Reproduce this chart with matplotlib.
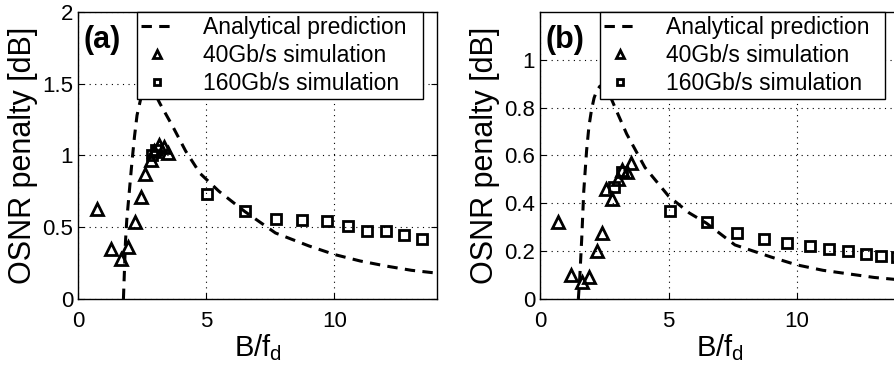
import numpy as np
import matplotlib
matplotlib.use('Agg')
import matplotlib.pyplot as plt

plt.rcParams['font.family'] = ['Liberation Sans', 'DejaVu Sans']

# (a) values
a_curve_x = [1.77, 1.8, 1.85, 1.9, 2.0, 2.1, 2.2, 2.3, 2.45, 2.6, 2.8, 3.0, 3.2, 3.7, 4.2, 4.76, 5.5, 6.5, 7.7, 9.0, 10.0, 11.0, 12.0, 13.0, 14.0]
a_curve_y = [0.0, 0.15, 0.4, 0.55, 0.75, 0.95, 1.13, 1.28, 1.4, 1.47, 1.48, 1.43, 1.36, 1.2, 1.03, 0.875, 0.75, 0.61, 0.46, 0.37, 0.31, 0.265, 0.23, 0.2, 0.18]
a_tri_x = [0.73, 1.29, 1.68, 1.96, 2.22, 2.46, 2.61, 2.85, 2.96, 3.17, 3.35, 3.52]
a_tri_y = [0.63, 0.35, 0.28, 0.36, 0.54, 0.71, 0.87, 0.97, 1.03, 1.07, 1.06, 1.02]
a_sq_x = [2.9, 3.05, 5.04, 6.51, 7.72, 8.74, 9.7, 10.52, 11.28, 12.01, 12.71, 13.4]
a_sq_y = [1.0, 1.04, 0.73, 0.61, 0.555, 0.55, 0.543, 0.51, 0.476, 0.474, 0.446, 0.418]

# (b)
b_curve_x = [1.49, 1.55, 1.62, 1.7, 1.81, 1.9, 2.0, 2.1, 2.2, 2.33, 2.5, 2.74, 3.0, 3.37, 4.08, 5.0, 5.8, 6.47, 7.58, 9.0, 9.97, 11.0, 12.0, 13.0, 14.0]
b_curve_y = [0.0, 0.1, 0.25, 0.45, 0.62, 0.72, 0.79, 0.84, 0.87, 0.89, 0.885, 0.845, 0.78, 0.69, 0.55, 0.43, 0.36, 0.317, 0.226, 0.175, 0.143, 0.12, 0.105, 0.09, 0.08]
b_tri_x = [0.71, 1.21, 1.64, 1.9, 2.2, 2.42, 2.56, 2.81, 3.02, 3.17, 3.39, 3.52]
b_tri_y = [0.32, 0.10, 0.07, 0.094, 0.20, 0.275, 0.46, 0.42, 0.50, 0.54, 0.53, 0.57]
b_sq_x = [2.89, 3.2, 5.05, 6.5, 7.67, 8.71, 9.59, 10.49, 11.24, 11.98, 12.66, 13.28, 13.9]
b_sq_y = [0.47, 0.53, 0.37, 0.32, 0.275, 0.25, 0.236, 0.22, 0.21, 0.20, 0.19, 0.18, 0.175]

fig = plt.figure(figsize=(8.95, 3.76), dpi=100)
ax_a = fig.add_axes([0.0872, 0.2048, 0.4011, 0.7633])
ax_b = fig.add_axes([0.6034, 0.2048, 0.4022, 0.7633])

panels = [
    (ax_a, '(a)', a_curve_x, a_curve_y, a_tri_x, a_tri_y, a_sq_x, a_sq_y, 2.0,
     [0, 0.5, 1, 1.5, 2], ['0', '0.5', '1', '1.5', '2'], (0.164, 0.0, 0.797, 1.0)),
    (ax_b, '(b)', b_curve_x, b_curve_y, b_tri_x, b_tri_y, b_sq_x, b_sq_y, 1.2,
     [0, 0.2, 0.4, 0.6, 0.8, 1], ['0', '0.2', '0.4', '0.6', '0.8', '1'], (0.167, 0.0, 0.792, 1.0)),
]

for ax, tag, cx, cy, tx, ty, sx, sy, ymax, yt, ytl, legbox in panels:
    ax.plot(cx, cy, 'k--', lw=2.2, dashes=(3.4, 2.4), label='Analytical prediction')
    ax.plot(tx, ty, '^', ms=9, mfc='none', mec='k', mew=2, ls='none', label='40Gb/s simulation')
    ax.plot(sx, sy, 's', ms=7, mfc='none', mec='k', mew=2, ls='none', label='160Gb/s simulation')
    ax.set_xlim(0, 14)
    ax.set_ylim(0, ymax)
    ax.set_xticks([0, 5, 10])
    ax.set_yticks(yt)
    ax.set_yticklabels(ytl)
    ax.tick_params(direction='in', top=True, right=True, labelsize=16, length=4)
    ax.tick_params(axis='x', pad=9)
    ax.grid(True, ls=(0, (1, 4)), color='k', lw=0.8)
    ax.set_xlabel(r'$\mathregular{B/f_d}$', fontsize=21, labelpad=0)
    ax.set_ylabel('OSNR penalty [dB]', fontsize=22, labelpad=3)
    ax.text(0.015, 0.955, tag, transform=ax.transAxes, fontsize=22, fontweight='bold', va='top')
    leg = ax.legend(loc='upper left', bbox_to_anchor=legbox, mode='expand', borderaxespad=0,
                    fontsize=16.5, frameon=True, fancybox=False, edgecolor='k', framealpha=1,
                    handlelength=1.4, labelspacing=0.22, borderpad=0.17, handletextpad=1.3,
                    markerscale=0.7)
    leg.get_frame().set_linewidth(1.0)
    for s in ax.spines.values():
        s.set_linewidth(1.0)

fig.savefig('out.png', dpi=100)
